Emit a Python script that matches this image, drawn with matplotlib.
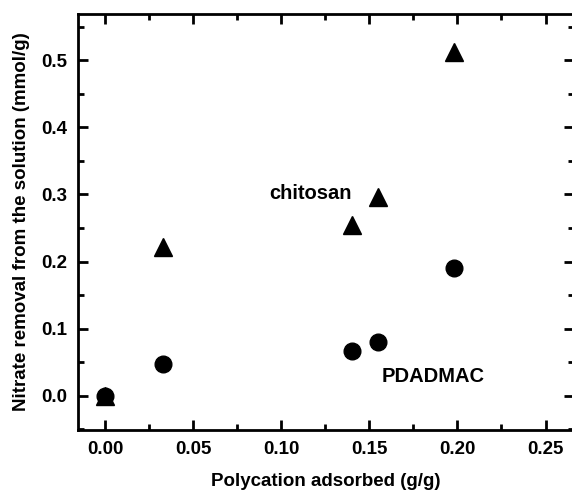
import matplotlib
matplotlib.use("Agg")
import matplotlib.pyplot as plt
from matplotlib.ticker import MultipleLocator

plt.rcParams['font.family'] = ['Liberation Sans', 'DejaVu Sans']
plt.rcParams['font.weight'] = 'bold'

# Data
x_chitosan = [0.0, 0.033, 0.140, 0.155, 0.198]
y_chitosan = [0.0, 0.222, 0.254, 0.296, 0.512]
x_pdadmac = [0.0, 0.033, 0.140, 0.155, 0.198]
y_pdadmac = [0.0, 0.048, 0.067, 0.080, 0.190]

xlabel = "Polycation adsorbed (g/g)"
ylabel = "Nitrate removal from the solution (mmol/g)"

fig = plt.figure(figsize=(5.72, 4.93), dpi=100)
ax = fig.add_axes([0.1364, 0.1278, 0.8666, 0.8448])

ax.plot(x_chitosan, y_chitosan, linestyle='none', marker='^', color='black', markersize=13)
ax.plot(x_pdadmac, y_pdadmac, linestyle='none', marker='o', color='black', markersize=12)

ax.text(0.1165, 0.302, "chitosan", ha='center', va='center', fontsize=14.5, fontweight='bold')
ax.text(0.186, 0.028, "PDADMAC", ha='center', va='center', fontsize=14.5, fontweight='bold')

ax.set_xlim(-0.0153, 0.266)
ax.set_ylim(-0.051, 0.5695)

ax.xaxis.set_minor_locator(MultipleLocator(0.025))
ax.yaxis.set_minor_locator(MultipleLocator(0.05))
ax.set_xticks([0, 0.05, 0.10, 0.15, 0.20, 0.25])
ax.set_xticklabels(["0.00", "0.05", "0.10", "0.15", "0.20", "0.25"])
ax.set_yticks([0.0, 0.1, 0.2, 0.3, 0.4, 0.5])
ax.set_yticklabels(["0.0", "0.1", "0.2", "0.3", "0.4", "0.5"])

ax.tick_params(which='both', direction='in', top=True, right=True, width=2, labelsize=13.5, pad=8)
ax.tick_params(which='major', length=7)
ax.tick_params(which='minor', length=4)
for lbl in ax.get_xticklabels() + ax.get_yticklabels():
    lbl.set_fontweight('bold')

for s in ax.spines.values():
    s.set_linewidth(2)

ax.set_xlabel(xlabel, fontsize=13.5, fontweight='bold', labelpad=11)
ax.set_ylabel(ylabel, fontsize=13.5, fontweight='bold', labelpad=8)

fig.savefig("out.png", dpi=100)
